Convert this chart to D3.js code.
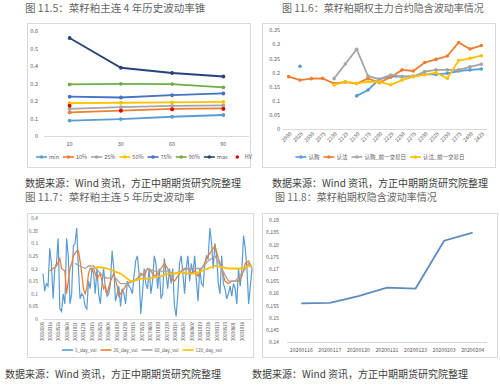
<!DOCTYPE html>
<html>
<head>
<meta charset="utf-8">
<script src="https://cdn.jsdelivr.net/npm/d3@7"></script>
<style>
  body { margin: 0; background: #fff; }
  svg { display: block; }
</style>
</head>
<body>
<svg id="chart" width="500" height="385"></svg>
<script>
// ---------- data ----------
// fig 11.5: volatility cone (window in days)
const coneWindows = ["10", "30", "60", "90"];
const coneMin = [0.088, 0.097, 0.110, 0.120];
const cone10 = [0.135, 0.145, 0.155, 0.158];
const cone25 = [0.155, 0.165, 0.172, 0.175];
const cone50 = [0.188, 0.190, 0.192, 0.195];
const cone75 = [0.225, 0.220, 0.233, 0.243];
const cone90 = [0.295, 0.298, 0.297, 0.278];
const coneMax = [0.560, 0.390, 0.360, 0.340];
const coneHV = [0.173, 0.145, 0.152, 0.155];

// fig 11.6: implied vol by strike
const strikes = ["2000", "2025", "2050", "2075", "2100", "2125", "2150", "2175", "2200",
  "2225", "2250", "2275", "2300", "2325", "2350", "2375", "2400", "2425"];
const ivCall = [null, 0.222, null, null, null, null, 0.117, 0.138, 0.176, 0.185, 0.185, 0.187,
  0.193, 0.193, 0.197, 0.205, 0.209, 0.212];
const ivPut = [0.185, 0.173, 0.178, 0.179, 0.161, 0.166, 0.161, 0.179, 0.164, 0.183, 0.209, 0.205,
  0.235, 0.246, 0.258, 0.306, 0.283, 0.295];
const ivCallPrev = [null, null, null, null, 0.178, 0.230, 0.282, 0.187, 0.176, 0.191, 0.185, 0.185,
  0.203, 0.209, 0.209, 0.209, 0.220, 0.229];
const ivPutPrev = [null, null, null, null, 0.156, 0.167, 0.161, 0.167, 0.167, 0.156, 0.173, 0.185,
  0.191, 0.199, 0.179, 0.242, 0.250, 0.259];

// fig 11.7: 5 year historical vol (x = sample index)
const histDates = ["20150105", "20150316", "20150526", "20150804", "20151021", "20151231",
  "20160315", "20160525", "20160804", "20161020", "20161230", "20170315", "20170525",
  "20170803", "20171020", "20171229", "20180314", "20180524", "20180802", "20181019",
  "20181228", "20190313", "20190523", "20190801", "20191018"];
const vol5 = [0.18, 0.11, 0.14, 0.13, 0.28, 0.22, 0.08, 0.20, 0.22, 0.32,
  0.04, 0.03, 0.10, 0.06, 0.32, 0.25, 0.06, 0.10, 0.29, 0.30,
  0.36, 0.20, 0.08, 0.10, 0.09, 0.05, 0.04, 0.15, 0.12, 0.20,
  0.18, 0.10, 0.20, 0.10, 0.06, 0.14, 0.20, 0.12, 0.09, 0.10,
  0.14, 0.27, 0.20, 0.07, 0.10, 0.13, 0.05, 0.12, 0.10, 0.06,
  0.15, 0.13, 0.12, 0.10, 0.17, 0.23, 0.25, 0.18, 0.02, 0.10,
  0.20, 0.14, 0.12, 0.20, 0.10, 0.15, 0.25, 0.22, 0.12, 0.20,
  0.08, 0.10, 0.24, 0.18, 0.12, 0.20, 0.14, 0.20, 0.05, 0.01,
  0.10, 0.22, 0.25, 0.18, 0.10, 0.20, 0.25, 0.15, 0.22, 0.18,
  0.25, 0.15, 0.07, 0.20, 0.14, 0.13, 0.22, 0.25, 0.24, 0.36,
  0.30, 0.20, 0.30, 0.25, 0.14, 0.10, 0.25, 0.14, 0.12, 0.08,
  0.10, 0.13, 0.09, 0.14, 0.12, 0.06, 0.20, 0.13, 0.20, 0.33,
  0.28, 0.20, 0.06, 0.13, 0.20];
const vol20 = [[4, 0.19], [6, 0.20], [8, 0.21], [10, 0.24], [11, 0.20], [13, 0.19], [14, 0.10],
  [16, 0.20], [17, 0.22], [18, 0.25], [20, 0.27], [21, 0.27], [22, 0.23], [23, 0.18], [24, 0.12],
  [25, 0.10], [26, 0.12], [27, 0.18], [28, 0.20], [30, 0.20], [32, 0.16], [34, 0.18], [36, 0.12],
  [37, 0.13], [38, 0.10], [40, 0.15], [42, 0.18], [44, 0.13], [45, 0.09], [46, 0.10], [48, 0.12],
  [50, 0.14], [52, 0.15], [54, 0.15], [56, 0.16], [58, 0.18], [60, 0.17], [62, 0.20], [64, 0.19],
  [66, 0.17], [68, 0.18], [70, 0.20], [72, 0.22], [74, 0.20], [76, 0.16], [78, 0.15], [80, 0.17],
  [82, 0.19], [84, 0.20], [86, 0.20], [88, 0.18], [90, 0.19], [92, 0.17], [94, 0.20], [96, 0.22],
  [98, 0.25], [100, 0.27], [102, 0.29], [104, 0.24], [106, 0.20], [108, 0.15], [110, 0.14],
  [112, 0.15], [114, 0.15], [116, 0.15], [118, 0.17], [120, 0.22], [122, 0.23], [124, 0.20]];
const vol60 = [[19, 0.22], [22, 0.21], [25, 0.20], [27, 0.21], [30, 0.21], [34, 0.18], [38, 0.16],
  [42, 0.17], [46, 0.14], [50, 0.14], [54, 0.15], [58, 0.17], [62, 0.20], [66, 0.19], [70, 0.19],
  [74, 0.19], [78, 0.18], [82, 0.19], [86, 0.20], [90, 0.20], [94, 0.20], [98, 0.23], [102, 0.25],
  [106, 0.20], [110, 0.15], [114, 0.15], [118, 0.18], [122, 0.22], [124, 0.21]];
const vol120 = [[31, 0.205], [34, 0.205], [38, 0.20], [42, 0.19], [46, 0.18], [50, 0.16], [52, 0.15],
  [54, 0.15], [58, 0.16], [62, 0.16], [66, 0.165], [70, 0.17], [74, 0.18], [78, 0.18], [82, 0.185],
  [86, 0.18], [90, 0.18], [94, 0.19], [98, 0.20], [102, 0.21], [106, 0.205], [110, 0.20],
  [114, 0.20], [118, 0.20], [122, 0.21], [124, 0.21]];

// fig 11.8: implied vol by day
const ivDates = ["20200116", "20200117", "20200120", "20200121", "20200123", "20200203", "20200204"];
const ivAtm = [0.1558, 0.1560, 0.1588, 0.1623, 0.1619, 0.1815, 0.1848];

// ---------- helpers ----------
const svg = d3.select("#chart");
const FONT = "'Noto Sans CJK SC', 'Noto Sans', sans-serif";
const TICK = "#595959", BORDER = "#d9d9d9", AXIS = "#d9d9d9";
const SOURCE = "数据来源：Wind 资讯，方正中期期货研究院整理";

function frame(x, y, w, h) {
  svg.append("rect").attr("x", x + 0.5).attr("y", y + 0.5).attr("width", w).attr("height", h)
    .attr("fill", "#fff").attr("stroke", BORDER);
}

function caption(x, y, str, size, color) {
  svg.append("text").attr("x", x).attr("y", y)
    .attr("font-family", FONT).attr("font-size", size).attr("fill", color)
    .text(str);
}

function yLabels(scale, x, values, size) {
  svg.append("g").attr("transform", `translate(${x},0)`)
    .call(d3.axisLeft(scale).tickValues(values).tickSize(0).tickPadding(0).tickFormat(d3.format("~g")))
    .call(g => g.select(".domain").remove())
    .selectAll("text").attr("fill", TICK).attr("font-size", size).attr("font-family", FONT);
}

function baseline(x0, x1, y) {
  svg.append("line").attr("x1", x0).attr("x2", x1).attr("y1", y + 0.5).attr("y2", y + 0.5)
    .attr("stroke", AXIS).attr("stroke-width", 1);
}

// legend flowed left to right, centred on cx
function legend(items, cx, y, size, withMarker) {
  const g = svg.append("g").attr("font-family", FONT).attr("font-size", size).attr("fill", TICK);
  let x = 0;
  items.forEach(it => {
    const item = g.append("g").attr("transform", `translate(${x},0)`);
    if (it.line !== false) {
      item.append("line").attr("x1", 0).attr("x2", 11).attr("y1", 0).attr("y2", 0)
        .attr("stroke", it.color).attr("stroke-width", it.width || 1.6);
    }
    if (withMarker) item.append("circle").attr("cx", 5.5).attr("cy", 0).attr("r", 1.8).attr("fill", it.color);
    const t = item.append("text").attr("x", 13).attr("y", 0).attr("dy", "0.35em").text(it.name);
    x += 13 + t.node().getComputedTextLength() + 4;
  });
  g.attr("transform", `translate(${cx - (x - 4) / 2},${y})`);
}

// ---------- fig 11.5 ----------
caption(25, 12, "图 11.5：菜籽粕主连 4 年历史波动率锥", 10.5, "#666");
frame(27, 23, 223, 144);
{
  const x = d3.scalePoint().domain(coneWindows).range([44, 249]).padding(0.5);
  const y = d3.scaleLinear().domain([0, 0.6]).range([136, 31]);
  yLabels(y, 38, [0, 0.1, 0.2, 0.3, 0.4, 0.5, 0.6], 5.5);
  baseline(44, 249, 136);
  svg.append("g").selectAll("text").data(coneWindows).join("text")
    .attr("x", d => x(d)).attr("y", 144).attr("dy", "0.35em").attr("text-anchor", "middle")
    .attr("font-family", FONT).attr("font-size", 5.5).attr("fill", TICK).text(d => d);

  const series = [
    { name: "min", color: "#5B9BD5", values: coneMin },
    { name: "10%", color: "#ED7D31", values: cone10 },
    { name: "25%", color: "#A5A5A5", values: cone25 },
    { name: "50%", color: "#FFC000", values: cone50 },
    { name: "75%", color: "#4472C4", values: cone75 },
    { name: "90%", color: "#70AD47", values: cone90 },
    { name: "max", color: "#264478", values: coneMax }
  ];
  const line = d3.line().x((d, i) => x(coneWindows[i])).y(d => y(d));
  const g = svg.append("g");
  series.forEach(s => {
    g.append("path").attr("d", line(s.values)).attr("fill", "none")
      .attr("stroke", s.color).attr("stroke-width", 1.8);
    g.selectAll(null).data(s.values).join("circle")
      .attr("cx", (d, i) => x(coneWindows[i])).attr("cy", d => y(d)).attr("r", 1.9).attr("fill", s.color);
  });
  g.selectAll(null).data(coneHV).join("circle")
    .attr("cx", (d, i) => x(coneWindows[i])).attr("cy", d => y(d)).attr("r", 1.9).attr("fill", "#E00000");

  legend(series.map(s => ({ name: s.name, color: s.color })).concat([{ name: "HV", color: "#E00000", line: false }]),
    144, 157, 5.5, true);
}
caption(25, 187, SOURCE, 10, "#404040");

// ---------- fig 11.6 ----------
caption(282, 12, "图 11.6：菜籽粕期权主力合约隐含波动率情况", 10, "#666");
frame(262, 23, 233, 144);
{
  const x = d3.scalePoint().domain(strikes).range([283, 487]).padding(0.5);
  const y = d3.scaleLinear().domain([0, 0.35]).range([129, 30]);
  yLabels(y, 280, [0, 0.05, 0.1, 0.15, 0.2, 0.25, 0.3, 0.35], 5.5);
  baseline(283, 487, 129);
  svg.append("g").selectAll("text").data(strikes).join("text")
    .attr("transform", d => `translate(${x(d) + 2},${133}) rotate(-45)`)
    .attr("text-anchor", "end").attr("dy", "0.35em")
    .attr("font-family", FONT).attr("font-size", 5.2).attr("fill", TICK).text(d => d);

  const series = [
    { name: "认购", color: "#5B9BD5", values: ivCall },
    { name: "认沽", color: "#ED7D31", values: ivPut },
    { name: "认购_前一交易日", color: "#A5A5A5", values: ivCallPrev },
    { name: "认沽_前一交易日", color: "#FFC000", values: ivPutPrev }
  ];
  const line = d3.line().defined(d => d != null).x((d, i) => x(strikes[i])).y(d => y(d));
  const g = svg.append("g");
  series.forEach(s => {
    g.append("path").attr("d", line(s.values)).attr("fill", "none")
      .attr("stroke", s.color).attr("stroke-width", 1.8);
    g.selectAll(null).data(s.values.map((v, i) => [strikes[i], v]).filter(d => d[1] != null)).join("circle")
      .attr("cx", d => x(d[0])).attr("cy", d => y(d[1])).attr("r", 1.8).attr("fill", s.color);
  });
  legend(series, 380, 157, 5.5, true);
}
caption(272, 187, SOURCE, 10, "#404040");

// ---------- fig 11.7 ----------
caption(25, 201, "图 11.7：菜籽粕主连 5 年历史波动率", 10.5, "#666");
frame(27, 213, 226, 144);
{
  const x = d3.scaleLinear().domain([0, vol5.length - 1]).range([43, 252]);
  const xd = d3.scalePoint().domain(histDates).range([42, 242]);
  const y = d3.scaleLinear().domain([0, 0.4]).range([319, 218]);
  yLabels(y, 38, [0, 0.05, 0.1, 0.15, 0.2, 0.25, 0.3, 0.35, 0.4], 4.8);
  baseline(43, 252, 319);
  svg.append("g").selectAll("text").data(histDates).join("text")
    .attr("transform", d => `translate(${xd(d)},${322}) rotate(-90)`)
    .attr("text-anchor", "end").attr("dy", "0.35em")
    .attr("font-family", FONT).attr("font-size", 4.3).attr("fill", TICK).text(d => d);

  const g = svg.append("g").attr("fill", "none");
  g.append("path").attr("d", d3.line().x((d, i) => x(i)).y(d => y(d))(vol5))
    .attr("stroke", "#5B9BD5").attr("stroke-width", 1.2);
  const pair = d3.line().x(d => x(d[0])).y(d => y(d[1]));
  g.append("path").attr("d", pair(vol20)).attr("stroke", "#ED7D31").attr("stroke-width", 1.3);
  g.append("path").attr("d", pair(vol60)).attr("stroke", "#A5A5A5").attr("stroke-width", 1.3);
  g.append("path").attr("d", pair(vol120)).attr("stroke", "#FFC000").attr("stroke-width", 1.8);

  legend([
    { name: "5_day_vol", color: "#5B9BD5" },
    { name: "20_day_vol", color: "#ED7D31" },
    { name: "60_day_vol", color: "#A5A5A5" },
    { name: "120_day_vol", color: "#FFC000" }
  ], 142, 350, 4.5, false);
}
caption(5, 378, SOURCE, 10, "#404040");

// ---------- fig 11.8 ----------
caption(275, 201, "图 11.8：菜籽粕期权隐含波动率情况", 10, "#666");
frame(262, 213, 235, 144);
{
  const x = d3.scalePoint().domain(ivDates).range([287, 487]).padding(0.5);
  const y = d3.scaleLinear().domain([0.14, 0.19]).range([342, 220]);
  yLabels(y, 279, y.ticks(10), 5.2);
  baseline(287, 487, 342);
  svg.append("g").selectAll("text").data(ivDates).join("text")
    .attr("x", d => x(d)).attr("y", 350).attr("dy", "0.35em").attr("text-anchor", "middle")
    .attr("font-family", FONT).attr("font-size", 5.2).attr("fill", TICK).text(d => d);
  svg.append("path")
    .attr("d", d3.line().x((d, i) => x(ivDates[i])).y(d => y(d))(ivAtm))
    .attr("fill", "none").attr("stroke", "#5B8BC0").attr("stroke-width", 1.8);
}
caption(252, 378, SOURCE, 10, "#404040");
</script>
</body>
</html>
